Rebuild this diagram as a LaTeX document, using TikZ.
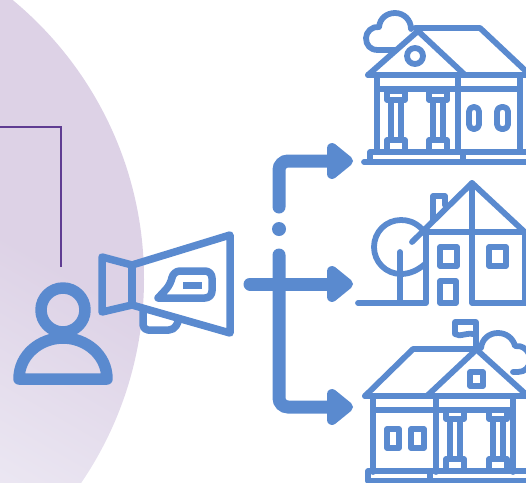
\documentclass[tikz,border=0pt]{standalone}
\usepackage[usenames,dvipsnames,svgnames,table]{xcolor}
\usepackage{tikz}
\usetikzlibrary{calc}
\usetikzlibrary{arrows.meta}
\usetikzlibrary{positioning}
\definecolor{iconBlue}{HTML}{5A8ACF}
\definecolor{lilac}{HTML}{DDD2E6}
\definecolor{lilacPale}{HTML}{ECE8F3}
\definecolor{wirePurple}{HTML}{5F3C92}

\pgfdeclareverticalshading{backdropFade}{100bp}{
  color(0bp)=(lilacPale); color(25bp)=(lilacPale); color(48bp)=(lilac); color(100bp)=(lilac)
}

\pgfdeclarearrow{
  name=Fathead,
  setup code={
    \pgfarrowssettipend{26pt}
    \pgfarrowssetlineend{6pt}
    \pgfarrowssetbackend{0pt}
    \pgfarrowssetvisualbackend{6pt}
  },
  drawing code={
    \pgfsetcornersarced{\pgfpointorigin}
    \pgfsetroundjoin
    \pgfsetlinewidth{10pt}
    \pgfpathmoveto{\pgfpoint{5pt}{13pt}}
    \pgfpathlineto{\pgfpoint{21pt}{0pt}}
    \pgfpathlineto{\pgfpoint{5pt}{-13pt}}
    \pgfpathclose
    \pgfusepathqfillstroke
  }
}

\begin{document}
\begin{tikzpicture}[
      x=1pt, y=-1pt,
      icon/.style ={draw=iconBlue, line width=5.8pt, line join=round, line cap=round},
      bold/.style ={draw=iconBlue, line width=7.5pt, line join=round, line cap=round},
      wire/.style ={draw=wirePurple, line width=1.3pt},
      flow/.style ={draw=iconBlue, fill=none, line width=13pt, line cap=round, rounded corners=9pt, -Fathead},
      column/.pic ={
        \draw [icon, line width=5.2pt] (-9,-4) rectangle (9,5) ;
        \draw [icon, line width=5.2pt] (-5,5) -- (-5,45) (5,5) -- (5,45) ;
        \draw [icon, line width=5.2pt] (-9,45) rectangle (9,57) ;
      }
    ]
    \useasboundingbox (0,0) rectangle (526,482) ;
    \clip (0,0) rectangle (526,482) ;

    % backdrop
    \begin{scope}
      \clip (-218,279) circle (362) ;
      \shade [shading=backdropFade, shading angle=-30] (-200,-10) rectangle (300,490) ;
    \end{scope}
    \coordinate (wireStart) at (-2,127) ;
    \coordinate (wireEnd) at (61,267) ;
    \draw [wire] (wireStart) -| (wireEnd) ;

    % person
    \draw [icon, line width=11.5pt] (63,310) circle (22) ;
    \draw [icon, line width=11.5pt, line cap=butt] (19,379) .. controls (19,355) and (40,338) .. (63,338) .. controls (86,338) and (107,355) .. (107,379) -- cycle ;

    % megaphone
    \draw [bold] (102,257) -- (132,265) -- (230,235) -- (230,333) -- (132,305) -- (102,312) -- cycle ;
    \draw [bold] (132,265) -- (132,305) ;
    \draw [bold, rounded corners=5pt] (143,309) -- (143,330) -- (174,330) -- (178,322) ;
    \draw [bold] (158,298) [rounded corners=7pt] -- (212,298) -- (212,271) -- (173,271) -- (171,284) [sharp corners] -- cycle ;
    \fill [iconBlue] (183,282) rectangle (202,289) ;

    % arrows
    \coordinate (topStart) at (279,207) ;
    \coordinate (topEnd) at (353,161) ;
    \coordinate (midStart) at (250,284) ;
    \coordinate (midEnd) at (353,284) ;
    \coordinate (lowStart) at (279,255) ;
    \coordinate (lowEnd) at (353,407) ;
    \node [circle, fill=iconBlue, inner sep=0pt, minimum size=14pt] (gap) at (279,229) {} ;
    \draw [flow] (topStart) |- (topEnd) ;
    \draw [flow] (midStart) -- (midEnd) ;
    \draw [flow] (lowStart) |- (lowEnd) ;

    % first house
    \draw [icon] (396,50) -- (378,50) .. controls (370,50) and (366,45) .. (366,38) .. controls (366,32) and (372,26) .. (379,27) .. controls (380,18) and (387,13) .. (395,13) .. controls (404,13) and (411,20) .. (411,29) ;
    \draw [icon] (368,75) -- (418,31) -- (465,75) ;
    \draw [icon] (415,28) -- (480,28) -- (530,75) ;
    \draw [icon] (368,75) -- (530,75) ;
    \draw [icon] (415,56) circle (8) ;
    \draw [icon] (377,75) -- (377,152) (458,75) -- (458,152) (520,75) -- (520,152) ;
    \draw [icon] (377,89) -- (520,89) ;
    \draw [icon] (370,152) -- (530,152) (370,152) -- (370,161) (463,152) -- (463,161) ;
    \draw [icon] (364,162) -- (530,162) ;
    \path (396,95) pic {column} (438,95) pic {column} ;
    \draw [icon, rounded corners=4.5pt] (469,129) -- (469,107) -- (479,107) -- (479,129) -- cycle ;
    \draw [icon, rounded corners=4.5pt] (497,129) -- (497,107) -- (508,107) -- (508,129) -- cycle ;

    % second house
    \draw [icon] (358,303) -- (425,303) ;
    \draw [icon] (422,229) .. controls (415,222) and (408,220) .. (401,220) .. controls (386,220) and (374,232) .. (374,247) .. controls (374,262) and (386,274) .. (401,274) .. controls (410,274) and (418,270) .. (425,264) ;
    \draw [icon] (400,252) -- (400,303) ;
    \draw [icon] (412,242) -- (472,183) -- (530,237) ;
    \draw [icon] (427,232) -- (530,232) ;
    \draw [icon] (433,220) -- (433,196) -- (445,196) -- (445,205) ;
    \draw [icon] (426,232) -- (426,303) ;
    \draw [icon] (472,183) -- (472,303) -- (530,303) ;
    \draw [icon] (525,232) -- (525,303) ;
    \draw [icon] (440,247) rectangle (457,266) ;
    \draw [icon] (489,247) rectangle (506,266) ;
    \draw [icon] (440,281) rectangle (456,303) ;

    % third house
    \draw [icon] (476,350) -- (476,322) -- (455,322) -- (455,334) .. controls (460,338) and (468,331) .. (476,335) ;
    \draw [icon] (481,348) .. controls (482,339) and (489,333) .. (498,333) .. controls (506,333) and (513,338) .. (515,346) .. controls (522,345) and (530,350) .. (530,360) .. controls (530,367) and (525,372) .. (518,372) -- (513,372) ;
    \draw [icon] (365,396) -- (413,349) -- (477,349) -- (428,395) ;
    \draw [icon] (477,350) -- (530,398) ;
    \draw [icon] (365,396) -- (530,396) ;
    \draw [icon] (470,372) rectangle (483,386) ;
    \draw [icon] (373,396) -- (373,472) (436,396) -- (436,472) (513,396) -- (513,472) ;
    \draw [icon] (373,410) -- (513,410) ;
    \draw [icon] (368,471) rectangle (530,481) ;
    \draw [icon] (430,471) -- (430,481) ;
    \path (455,414) pic {column} (498,414) pic {column} ;
    \draw [icon] (387,429) rectangle (399,448) ;
    \draw [icon] (411,429) rectangle (424,448) ;
  \end{tikzpicture}
\end{document}
